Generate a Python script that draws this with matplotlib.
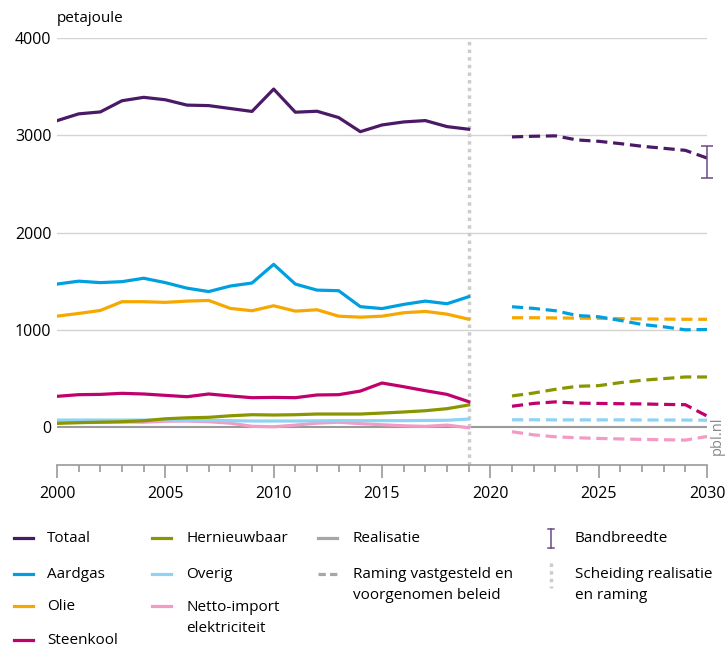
import matplotlib
matplotlib.use('Agg')
import matplotlib.pyplot as plt
from matplotlib.lines import Line2D
import numpy as np

plt.rcParams['font.family'] = ['Open Sans', 'DejaVu Sans']

# realisatie 2000-2019
jaren_real = list(range(2000, 2020))
totaal_real = [3150, 3220, 3240, 3355, 3390, 3365, 3310, 3305, 3275, 3245,
               3475, 3237, 3247, 3182, 3037, 3106, 3137, 3151, 3089, 3062]
aardgas_real = [1470, 1500, 1485, 1495, 1530, 1485, 1428, 1393, 1450, 1481,
                1673, 1470, 1408, 1402, 1238, 1218, 1261, 1295, 1268, 1340]
olie_real = [1140, 1168, 1199, 1289, 1289, 1282, 1295, 1302, 1220, 1196,
             1247, 1192, 1206, 1140, 1130, 1140, 1175, 1189, 1161, 1109]
steenkool_real = [316, 333, 336, 347, 340, 326, 312, 340, 320, 302,
                  305, 302, 330, 333, 370, 453, 415, 374, 336, 261]
hernieuwbaar_real = [38, 45, 50, 55, 65, 85, 95, 100, 116, 127,
                     124, 127, 134, 134, 134, 144, 155, 168, 189, 227]
overig_real = [72, 72, 72, 72, 72, 70, 68, 68, 66, 62,
               62, 62, 64, 66, 66, 66, 66, 68, 70, 82]
netto_real = [55, 52, 50, 52, 50, 60, 62, 55, 40, 8,
              3, 20, 40, 50, 35, 24, 13, 7, 20, -7]

# raming 2021-2030
jaren_ram = list(range(2021, 2031))
totaal_ram = [2983, 2990, 2994, 2952, 2938, 2914, 2887, 2866, 2845, 2766]
aardgas_ram = [1237, 1220, 1196, 1147, 1134, 1096, 1055, 1031, 1000, 1003]
olie_ram = [1124, 1124, 1122, 1120, 1118, 1115, 1112, 1110, 1108, 1108]
steenkool_ram = [214, 243, 259, 246, 243, 240, 238, 233, 230, 114]
hernieuwbaar_ram = [320, 350, 388, 419, 426, 457, 481, 498, 515, 515]
overig_ram = [75, 75, 74, 74, 74, 74, 73, 73, 72, 70]
netto_ram = [-48, -80, -100, -110, -117, -122, -127, -130, -134, -97]

bandbreedte_jaar = 2030
bandbreedte = [2565, 2885]
scheiding_jaar = 2019

reeksen = [
    ('Totaal', totaal_real, totaal_ram, '#4b1a66'),
    ('Aardgas', aardgas_real, aardgas_ram, '#00a0e0'),
    ('Olie', olie_real, olie_ram, '#f7a800'),
    ('Steenkool', steenkool_real, steenkool_ram, '#c0006c'),
    ('Hernieuwbaar', hernieuwbaar_real, hernieuwbaar_ram, '#8a9600'),
    ('Overig', overig_real, overig_ram, '#8fd3f4'),
    ('Netto-import\nelektriciteit', netto_real, netto_ram, '#f39bc4'),
]
kleuren = {naam: kl for naam, _, _, kl in reeksen}

W, H = 727, 647
fig = plt.figure(figsize=(W / 100, H / 100), dpi=100)

# axes in pixels: x 57..707, y 38..465
ax = fig.add_axes([57 / W, 1 - 465 / H, 650 / W, 427 / H])
ax.set_xlim(2000, 2030)
ax.set_ylim(-390, 4000)

for y in [1000, 2000, 3000, 4000]:
    ax.axhline(y, color='#d3d3d3', lw=1, zorder=1)
ax.axhline(0, color='#9a9a9a', lw=1.5, zorder=1)

ax.plot([scheiding_jaar, scheiding_jaar], [-390, 3990], color='#cccccc', lw=2.5,
        linestyle=(0, (1, 1.2)), zorder=2, clip_on=False)

# tekenvolgorde: onderste lijnen eerst
for naam, real, ram, kl in reversed(reeksen):
    ax.plot(jaren_real, real, color=kl, lw=2.3, zorder=3, solid_joinstyle='round')
    ax.plot(jaren_ram, ram, color=kl, lw=2.3, dashes=(3.5, 1.8), zorder=3)

ax.errorbar([bandbreedte_jaar], [np.mean(bandbreedte)],
            yerr=[[np.mean(bandbreedte) - bandbreedte[0]], [bandbreedte[1] - np.mean(bandbreedte)]],
            fmt='none', ecolor='#6b4a85', elinewidth=1.1, capsize=4, capthick=1.1,
            zorder=4, clip_on=False)

for s in ['top', 'left', 'right']:
    ax.spines[s].set_visible(False)
ax.spines['bottom'].set_color('#9a9a9a')
ax.spines['bottom'].set_linewidth(1.2)

ax.set_xticks(range(2000, 2031, 5))
ax.set_xticks(range(2000, 2031), minor=True)
ax.tick_params(axis='x', which='major', length=9, width=1.2, color='#9a9a9a',
               labelsize=11.5, pad=6)
ax.tick_params(axis='x', which='minor', length=5, width=1.2, color='#9a9a9a')
ax.set_yticks([0, 1000, 2000, 3000, 4000])
ax.tick_params(axis='y', length=0, labelsize=11.5, pad=4)

fig.text(57 / W, 1 - 18 / H, 'petajoule', fontsize=11, ha='left', va='center')
fig.text(717 / W, 1 - 436 / H, 'pbl.nl', fontsize=10.5, color='#888888',
         rotation=90, ha='center', va='center')


# legenda in pixels
def px(x, y):
    return x / W, 1 - y / H


def lijn(x, y, kleur, ls='-'):
    (x0, y0), (x1, y1) = px(x, y), px(x + 19, y)
    l = Line2D([x0, x1], [y0, y1], color=kleur, lw=2.3, transform=fig.transFigure)
    if ls == '--':
        l.set_dashes((2.3, 1.3))
    fig.add_artist(l)


def tekst(x, y, s):
    fx, fy = px(x, y)
    fig.text(fx, fy, s, fontsize=11, ha='left', va='center', linespacing=1.5)


kol1 = [('Totaal', 538), ('Aardgas', 574), ('Olie', 606), ('Steenkool', 640)]
for naam, y in kol1:
    lijn(14, y, kleuren[naam])
    tekst(47, y, naam)

kol2 = [('Hernieuwbaar', 538), ('Overig', 574), ('Netto-import\nelektriciteit', 606)]
for naam, y in kol2:
    lijn(152, y, kleuren[naam])
    tekst(186, y + (12 if '\n' in naam else 0), naam)

lijn(318, 538, '#a6a6a6')
tekst(353, 538, 'Realisatie')
lijn(318, 574, '#a6a6a6', '--')
tekst(353, 585, 'Raming vastgesteld en\nvoorgenomen beleid')

# bandbreedte symbool
bx = 551
for (xa, ya, xb, yb) in [(bx, 529, bx, 548), (bx - 3, 529, bx + 3, 529), (bx - 3, 548, bx + 3, 548)]:
    (x0, y0), (x1, y1) = px(xa, ya), px(xb, yb)
    fig.add_artist(Line2D([x0, x1], [y0, y1], color='#6b4a85', lw=1.1,
                          transform=fig.transFigure))
tekst(575, 538, 'Bandbreedte')
(x0, y0), (x1, y1) = px(bx, 563), px(bx, 588)
fig.add_artist(Line2D([x0, x1], [y0, y1], color='#cccccc', lw=2.5,
                      linestyle=(0, (1, 1.2)), transform=fig.transFigure))
tekst(575, 585, 'Scheiding realisatie\nen raming')

fig.savefig('out.png', dpi=100)
